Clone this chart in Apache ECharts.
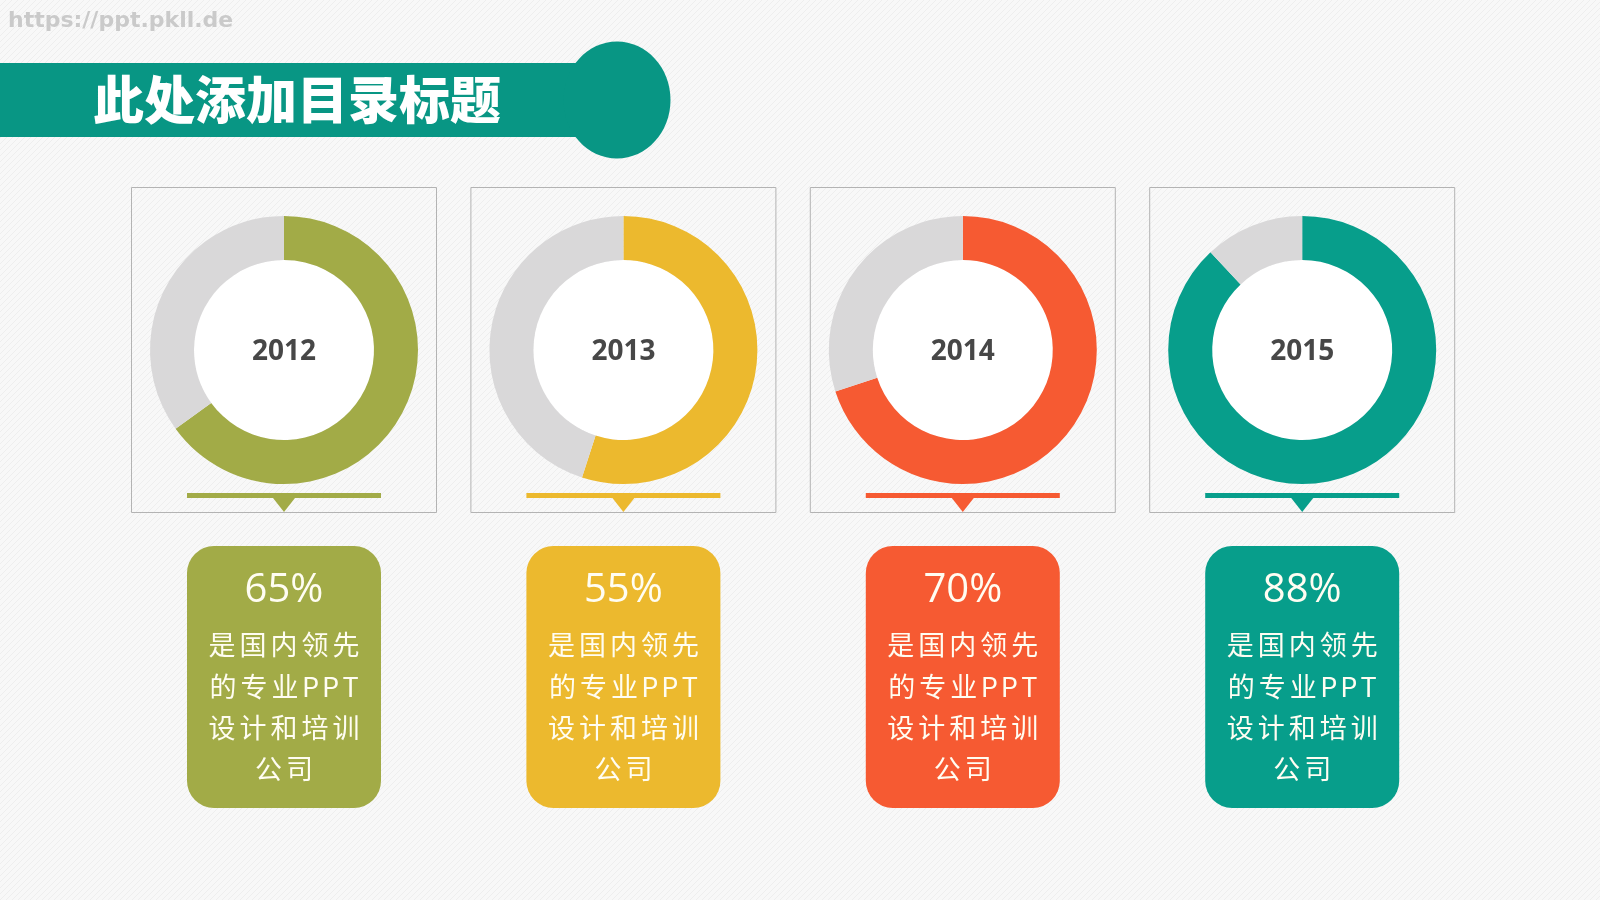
<!DOCTYPE html>
<html>
<head>
<meta charset="utf-8">
<title>此处添加目录标题</title>
<script src="https://cdn.jsdelivr.net/npm/echarts@6/dist/echarts.min.js"></script>
<style>
    html, body { margin: 0; padding: 0; }
    #container { width: 1600px; height: 900px; }
</style>
</head>
<body>
<div id="container"></div>
<script>
// 数据
var years = ['2012', '2013', '2014', '2015'];
var percents = [65, 55, 70, 88];
var descLines = ['是国内领先', '的专业PPT', '设计和培训', '公司'];
var titleText = '此处添加目录标题';
var watermark = 'https://ppt.pkll.de';

// 颜色
var colors = ['#a2ab47', '#ecb92e', '#f65a32', '#079e8b'];
var restColor = '#d9d8d9';
var headColor = '#089684';

var ChartModule = (function (echarts) {
    var chart;
    var colX0 = 284, colStep = 339.4, ringY = 350;

    // 斜纹背景
    function makeBg() {
        var c = document.createElement('canvas');
        c.width = 6;
        c.height = 6;
        var ctx = c.getContext('2d');
        ctx.fillStyle = '#f8f8f8';
        ctx.fillRect(0, 0, 6, 6);
        ctx.strokeStyle = '#eeeeee';
        ctx.lineWidth = 1;
        ctx.beginPath();
        ctx.moveTo(-1, 7);
        ctx.lineTo(7, -1);
        ctx.stroke();
        return { image: c, repeat: 'repeat' };
    }

    // 字间距：每个字单独一个 rich 片段
    function spaced(line) {
        return line.split('').map(function (ch) {
            return (ch.charCodeAt(0) < 256 ? '{l|' : '{c|') + ch + '}';
        }).join('');
    }

    function buildGraphic() {
        var g = [];
        // 标题栏
        g.push({ type: 'rect', shape: { x: 0, y: 63, width: 600, height: 74 }, style: { fill: headColor } });
        g.push({ type: 'ellipse', shape: { cx: 617, cy: 100, rx: 53.5, ry: 58.5 }, style: { fill: headColor } });
        g.push({
            type: 'text', x: 93, y: 100,
            style: {
                text: titleText, fill: '#fff', fontSize: 51, fontWeight: 900,
                fontFamily: 'Noto Sans CJK SC', verticalAlign: 'middle'
            }
        });
        g.push({
            type: 'text', x: 8, y: 21,
            style: {
                text: watermark, fill: '#cacaca', fontSize: 22, fontWeight: 'bold',
                fontFamily: 'DejaVu Sans', verticalAlign: 'middle'
            }
        });

        years.forEach(function (year, i) {
            var cx = colX0 + i * colStep;
            // 外框
            g.push({
                type: 'rect', shape: { x: cx - 152.5, y: 187.5, width: 305, height: 325 },
                style: { fill: 'none', stroke: '#b3b3b3', lineWidth: 1 }
            });
            // 中心白圆
            g.push({ type: 'circle', shape: { cx: cx, cy: ringY, r: 90 }, style: { fill: '#fff' } });
            g.push({
                type: 'text', x: cx, y: ringY + 2, z: 10,
                style: {
                    text: year, fill: '#474747', fontSize: 28, fontWeight: 'bold',
                    fontFamily: 'Open Sans', align: 'center', verticalAlign: 'middle'
                }
            });
            // 指示条和三角
            g.push({ type: 'rect', shape: { x: cx - 97, y: 493, width: 194, height: 5 }, style: { fill: colors[i] } });
            g.push({
                type: 'polygon', shape: { points: [[cx - 11, 498], [cx + 11, 498], [cx, 512]] },
                style: { fill: colors[i] }
            });
            // 文字卡片
            g.push({
                type: 'rect', shape: { x: cx - 97, y: 546, width: 194, height: 262, r: 27 },
                style: { fill: colors[i] }
            });
            g.push({
                type: 'text', x: cx, y: 591,
                style: {
                    text: percents[i] + '%', fill: '#fffdf2', fontSize: 40,
                    fontFamily: 'Open Sans', align: 'center', verticalAlign: 'middle'
                }
            });
            descLines.forEach(function (line, k) {
                g.push({
                    type: 'text', x: cx, y: 645 + k * 41.3,
                    style: {
                        text: spaced(line), fill: '#fffdf2', fontSize: 27,
                        fontFamily: 'Noto Sans CJK SC', align: 'center', verticalAlign: 'middle',
                        rich: {
                            c: { width: 31, align: 'center', fontSize: 27, fill: '#fffdf2', fontFamily: 'Noto Sans CJK SC' },
                            l: { width: 20, align: 'center', fontSize: 27, fill: '#fffdf2', fontFamily: 'Noto Sans CJK SC' }
                        }
                    }
                });
            });
        });
        return g;
    }

    function buildSeries() {
        return years.map(function (year, i) {
            return {
                type: 'pie',
                name: year,
                center: [colX0 + i * colStep, ringY],
                radius: [90, 134],
                startAngle: 90,
                clockwise: true,
                silent: true,
                animation: false,
                label: { show: false },
                labelLine: { show: false },
                emphasis: { disabled: true },
                data: [
                    { value: percents[i], name: year, itemStyle: { color: colors[i] } },
                    { value: 100 - percents[i], name: 'rest', itemStyle: { color: restColor } }
                ]
            };
        });
    }

    return {
        init: function () {
            chart = echarts.init(document.getElementById('container'), null, { renderer: 'canvas' });
            chart.setOption({
                backgroundColor: makeBg(),
                animation: false,
                graphic: buildGraphic(),
                series: buildSeries()
            });
        }
    };
})(echarts);

ChartModule.init();
</script>
</body>
</html>
